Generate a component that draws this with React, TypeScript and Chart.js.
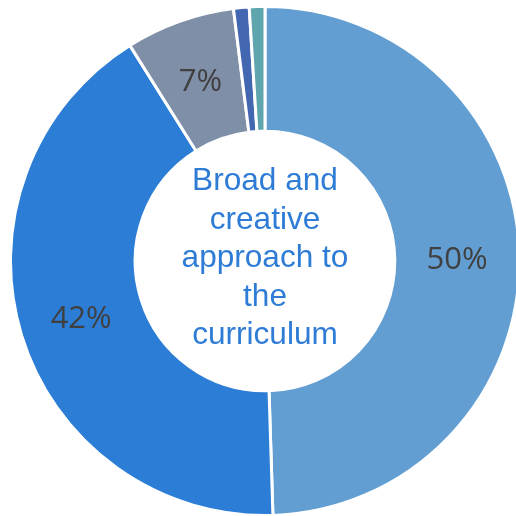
import React, { useEffect, useRef } from "react";
import { Chart, registerables } from "chart.js";

Chart.register(...registerables);

const categories = ["Response 1", "Response 2", "Response 3", "Response 4", "Response 5"];
const values = [50, 42, 7, 1, 1];
const colors = ["#629ED2", "#2B7DD5", "#7F8FA8", "#4467B2", "#5EA5AD"];
const centerLines = ["Broad and", "creative", "approach to", "the", "curriculum"];
const labelMin = 5;

const labelPlugin = {
  id: "sliceLabels",
  afterDatasetsDraw(chart: any) {
    const ctx = chart.ctx;
    const meta = chart.getDatasetMeta(0);
    const data = chart.data.datasets[0].data as number[];
    const total = data.reduce((a, b) => a + b, 0);
    ctx.save();
    ctx.font = "31px 'Open Sans'";
    ctx.fillStyle = "#404040";
    ctx.textAlign = "center";
    ctx.textBaseline = "middle";
    meta.data.forEach((arc: any, i: number) => {
      const v = data[i];
      if (v < labelMin) return;
      const p = arc.tooltipPosition();
      ctx.fillText(Math.round((v / total) * 100) + "%", p.x, p.y + 2);
    });
    // center text
    const first = meta.data[0] as any;
    const cx = first.x;
    const cy = first.y;
    ctx.font = "31.6px 'Liberation Sans'";
    ctx.fillStyle = "#2E7CD6";
    const lh = 38.6;
    const start = cy - ((centerLines.length - 1) * lh) / 2 - 2.5;
    centerLines.forEach((line, i) => {
      ctx.fillText(line, cx, start + i * lh);
    });
    ctx.restore();
  },
};

export default function App() {
  const ref = useRef<HTMLCanvasElement | null>(null);
  useEffect(() => {
    if (!ref.current) return;
    const chart = new Chart(ref.current, {
      type: "doughnut",
      data: {
        labels: categories,
        datasets: [
          {
            data: values,
            backgroundColor: colors,
            borderColor: "#ffffff",
            borderWidth: 3,
            hoverOffset: 0,
            offset: 0,
          },
        ],
      },
      options: {
        responsive: false,
        maintainAspectRatio: false,
        animation: false,
        devicePixelRatio: 1,
        cutout: "51%",
        rotation: 0,
        layout: { padding: 0 },
        plugins: {
          legend: { display: false },
          tooltip: { enabled: false },
        },
        events: [],
      },
      plugins: [labelPlugin],
    });
    return () => chart.destroy();
  }, []);
  return (
    <div style={{ position: "absolute", left: 9, top: 5, width: 512, height: 512 }}>
      <canvas ref={ref} width={512} height={512} style={{ display: "block" }} />
    </div>
  );
}
